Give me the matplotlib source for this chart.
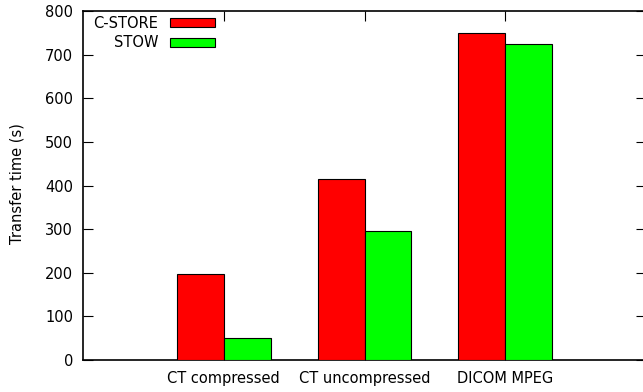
import matplotlib
matplotlib.use("Agg")
import matplotlib.pyplot as plt
import numpy as np

categories = ["CT compressed", "CT uncompressed", "DICOM MPEG"]
cstore = [197, 414, 750]
stow = [50, 296, 725]
series_names = ["C-STORE", "STOW"]
colors = ["#ff0000", "#00ff00"]

W, H = 643, 392
fig = plt.figure(figsize=(W / 100, H / 100), dpi=100)
plt.rcParams["font.family"] = "DejaVu Sans"
ax = fig.add_axes([83 / W, 1 - 360 / H, (646 - 83) / W, (360 - 11) / H])

x = np.arange(1, len(categories) + 1)
bw = 1 / 3
ax.bar(x - bw / 2, cstore, bw, color=colors[0], edgecolor="black", linewidth=0.8,
       label=series_names[0], zorder=3)
ax.bar(x + bw / 2, stow, bw, color=colors[1], edgecolor="black", linewidth=0.8,
       label=series_names[1], zorder=3)

fs = 10.5
ax.set_xlim(0, 4)
ax.set_ylim(0, 800)
ax.set_yticks(np.arange(0, 801, 100))
ax.set_xticks(x)
ax.set_xticklabels(categories)
ax.tick_params(direction="in", length=7, width=0.8, top=True, right=True,
               labelsize=fs, colors="black")
ax.tick_params(axis="x", pad=8)
ax.tick_params(axis="y", pad=7)
for s in ax.spines.values():
    s.set_linewidth(1.2)
ax.set_ylabel("Transfer time (s)", fontsize=fs)
ax.yaxis.set_label_coords(24 / W, 1 - 184 / H, transform=fig.transFigure)

leg = ax.legend(loc="upper right", bbox_to_anchor=(215 / W, 1 - 16 / H),
                bbox_transform=fig.transFigure, frameon=False, markerfirst=False,
                fontsize=fs, handlelength=3.1, handleheight=0.55, labelspacing=0.3,
                handletextpad=0.8, borderpad=0, borderaxespad=0)

fig.savefig("out.png", dpi=100)
